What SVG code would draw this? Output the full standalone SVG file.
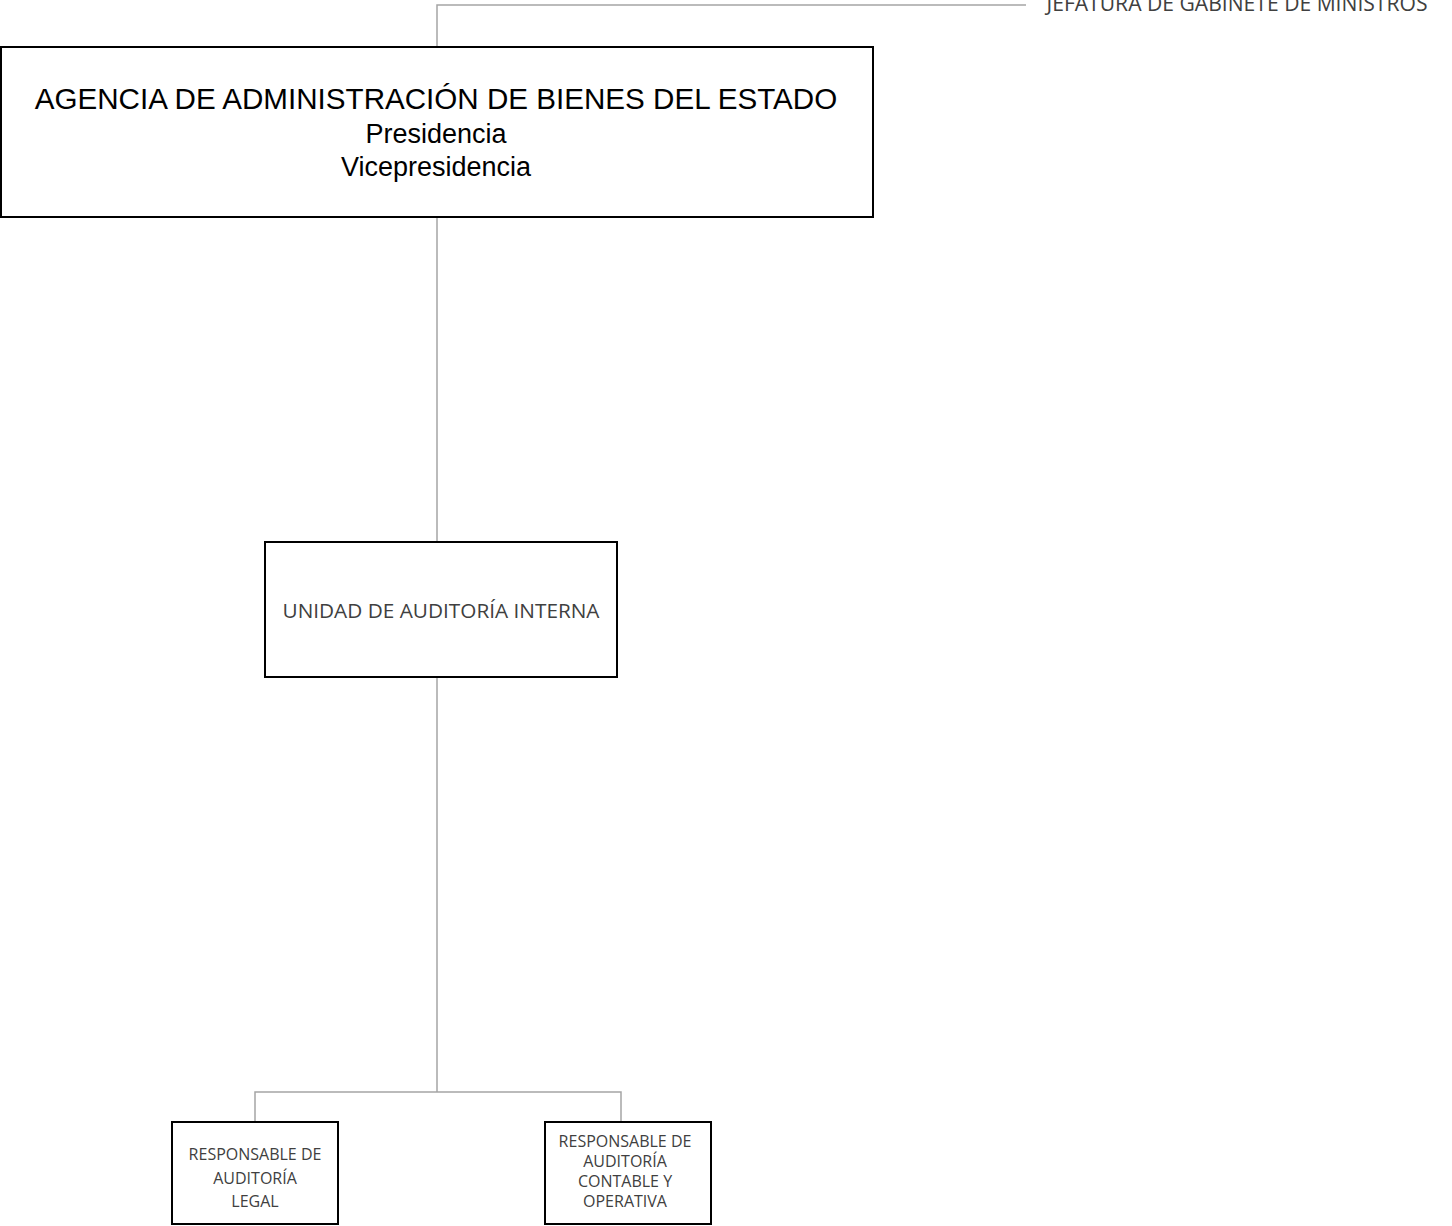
<svg xmlns="http://www.w3.org/2000/svg" width="1452" height="1226" viewBox="0 0 1452 1226">
<style>
.box{fill:#ffffff;stroke:#000000;stroke-width:2}
.conn{fill:none;stroke:#a5a5a5;stroke-width:1.5}
.t1{font-family:"Liberation Sans",Arial,sans-serif;fill:#000000;text-anchor:middle}
.t2{font-family:"Open Sans","Noto Sans",sans-serif;fill:#404040;text-anchor:middle}
</style>
<rect width="1452" height="1226" fill="#ffffff"/>
<g id="connectors">
<path class="conn" d="M437,46 V5 H1026"/>
<path class="conn" d="M437,217 V542"/>
<path class="conn" d="M437,677 V1092"/>
<path class="conn" d="M255,1122 V1092 H621 V1122"/>
</g>
<g id="jefatura">
<text class="t2" x="1237" y="11" font-size="21" textLength="381" lengthAdjust="spacingAndGlyphs">JEFATURA DE GABINETE DE MINISTROS</text>
</g>
<g id="agencia">
<rect class="box" x="1" y="47" width="872" height="170"/>
<text class="t1" x="436" y="109" font-size="29.6">AGENCIA DE ADMINISTRACIÓN DE BIENES DEL ESTADO</text>
<text class="t1" x="436" y="143" font-size="27">Presidencia</text>
<text class="t1" x="436" y="176" font-size="27">Vicepresidencia</text>
</g>
<g id="unidad">
<rect class="box" x="265" y="542" width="352" height="135"/>
<text class="t2" x="441" y="618" font-size="20.5" textLength="317" lengthAdjust="spacingAndGlyphs">UNIDAD DE AUDITORÍA INTERNA</text>
</g>
<g id="legal">
<rect class="box" x="172" y="1122" width="166" height="102"/>
<text class="t2" x="255" y="1160" font-size="16">RESPONSABLE DE</text>
<text class="t2" x="255" y="1184" font-size="16">AUDITORÍA</text>
<text class="t2" x="255" y="1207" font-size="16">LEGAL</text>
</g>
<g id="contable">
<rect class="box" x="545" y="1122" width="166" height="102"/>
<text class="t2" x="625" y="1147" font-size="16">RESPONSABLE DE</text>
<text class="t2" x="625" y="1167" font-size="16">AUDITORÍA</text>
<text class="t2" x="625" y="1187" font-size="16">CONTABLE Y</text>
<text class="t2" x="625" y="1207" font-size="16">OPERATIVA</text>
</g>
</svg>
